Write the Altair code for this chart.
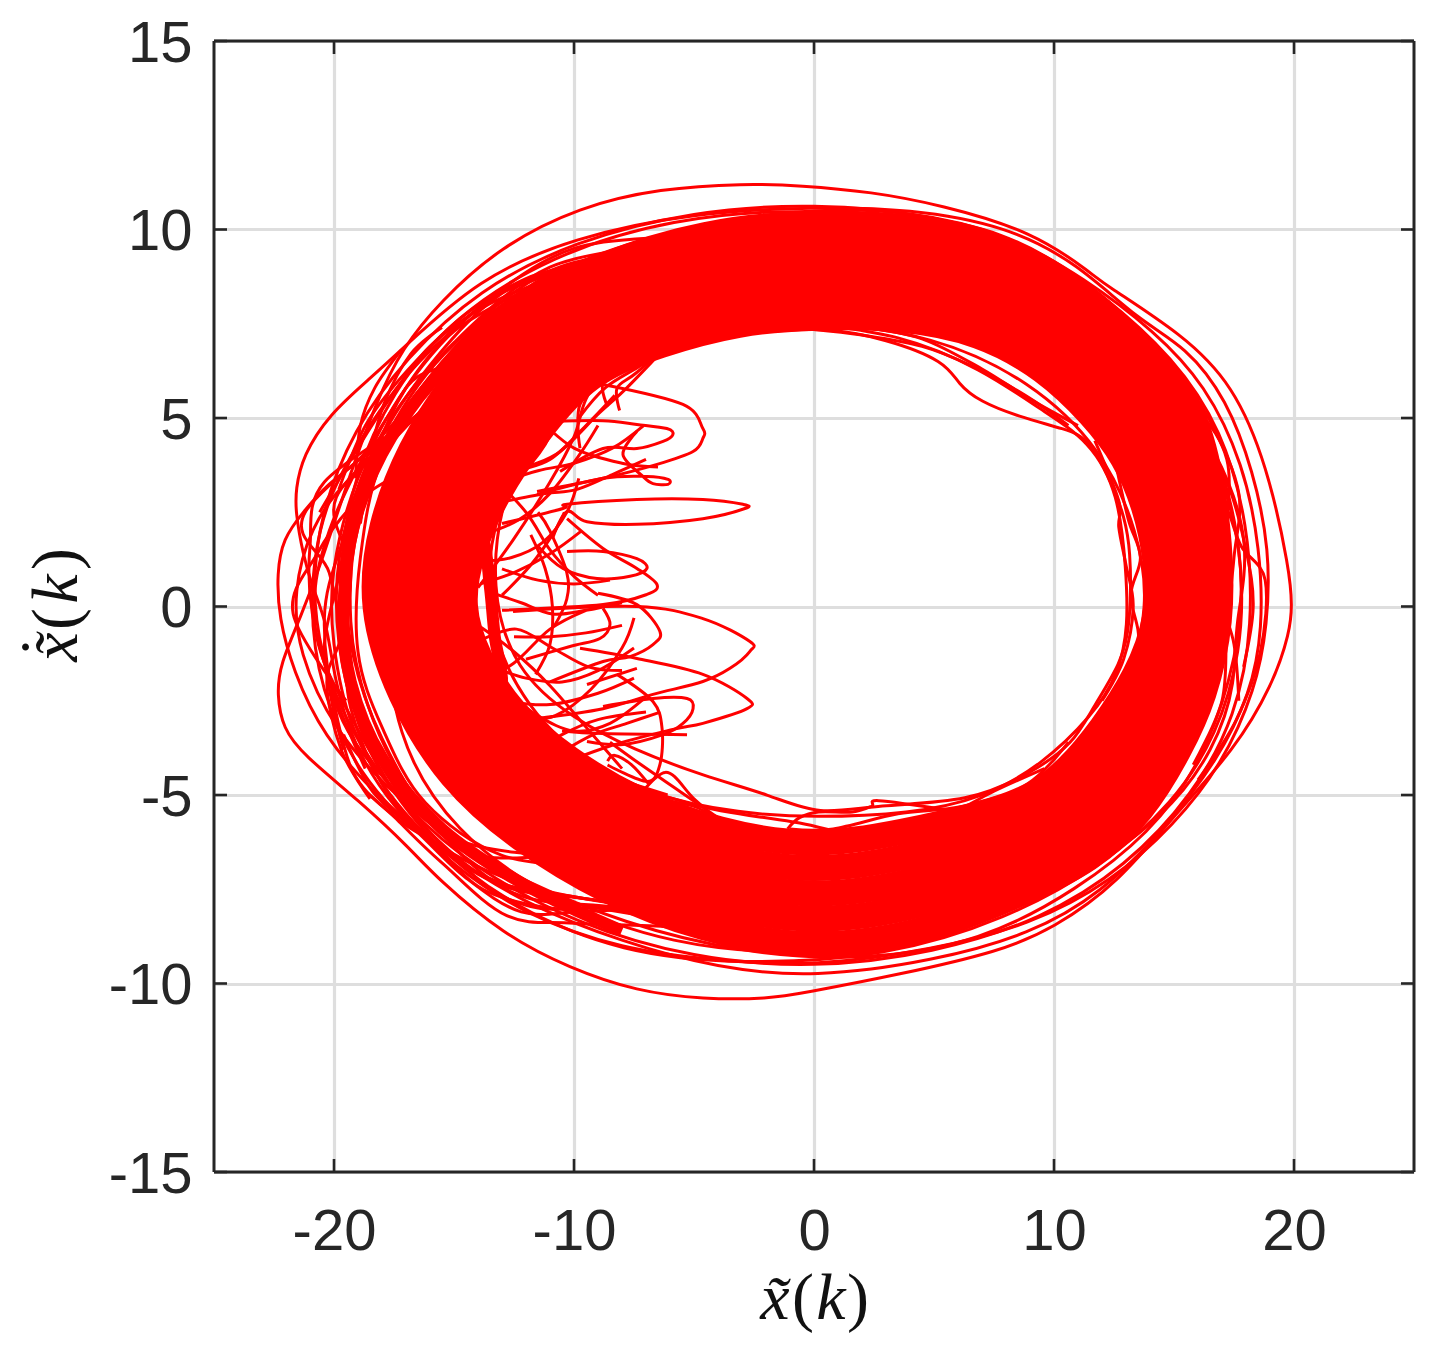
import altair as alt
import pandas as pd

# ---- dense core of the attractor: five orbits followed across the band ----
core_a = [(0,10.21),(3.95,10.10),(7.71,9.70),(11.07,8.42),(13.67,6.87),(15.66,5.53),(16.50,3.69),(16.92,1.66),(17.0,-0.38),(16.27,-2.42),(15.27,-3.77),(13.73,-5.45),(11.52,-6.75),(8.84,-7.56),(4.79,-8.65),(0,-9.12),(-4.65,-8.60),(-8.72,-7.58),(-12.34,-6.17),(-15.18,-4.62),(-17.35,-2.36),(-18.53,0),(-18.11,2.14),(-16.88,4.19),(-15.03,6.01),(-12.58,7.84),(-8.93,9.09),(-4.53,9.96)]
core_b = [(0,9.58),(3.87,9.49),(7.51,9.09),(10.71,7.89),(13.16,6.42),(14.98,5.14),(15.82,3.44),(16.26,1.56),(16.35,-0.36),(15.57,-2.27),(14.45,-3.64),(12.96,-5.16),(10.88,-6.35),(8.38,-7.05),(4.53,-7.98),(0,-8.44),(-4.49,-7.94),(-8.40,-6.97),(-11.83,-5.63),(-14.55,-4.17),(-16.52,-2.11),(-17.58,0),(-17.16,1.96),(-15.97,3.89),(-14.16,5.66),(-11.79,7.43),(-8.30,8.55),(-4.17,9.35)]
core_c = [(0,8.95),(3.79,8.89),(7.31,8.49),(10.36,7.36),(12.65,5.97),(14.31,4.75),(15.15,3.19),(15.61,1.46),(15.69,-0.34),(14.88,-2.12),(13.63,-3.52),(12.19,-4.87),(10.25,-5.96),(7.92,-6.53),(4.27,-7.32),(0,-7.76),(-4.34,-7.29),(-8.09,-6.37),(-11.32,-5.11),(-13.92,-3.72),(-15.69,-1.86),(-16.63,0),(-16.21,1.79),(-15.07,3.59),(-13.29,5.31),(-11.0,7.03),(-7.67,8.03),(-3.82,8.75)]
core_d = [(0,8.32),(3.71,8.28),(7.11,7.89),(10.0,6.83),(12.13,5.51),(13.64,4.35),(14.48,2.93),(14.95,1.36),(15.03,-0.31),(14.18,-1.97),(12.81,-3.39),(11.42,-4.58),(9.62,-5.56),(7.46,-6.01),(4.01,-6.66),(0,-7.08),(-4.18,-6.64),(-7.77,-5.78),(-10.80,-4.58),(-13.28,-3.26),(-14.86,-1.60),(-15.68,0),(-15.26,1.62),(-14.16,3.28),(-12.42,4.95),(-10.21,6.63),(-7.03,7.50),(-3.46,8.15)]
core_e = [(0,7.69),(3.63,7.67),(6.91,7.28),(9.64,6.30),(11.62,5.06),(12.96,3.96),(13.80,2.68),(14.29,1.25),(14.37,-0.29),(13.48,-1.82),(11.98,-3.26),(10.65,-4.29),(8.98,-5.16),(7.0,-5.50),(3.75,-5.99),(0,-6.40),(-4.02,-5.98),(-7.45,-5.15),(-10.29,-4.05),(-12.65,-2.81),(-14.03,-1.35),(-14.73,0),(-14.31,1.44),(-13.25,2.98),(-11.55,4.60),(-9.42,6.22),(-6.40,6.97),(-3.11,7.54)]
# left edges of the dense part
rim_a = [(-7,9.6),(-11.5,8.5),(-15,6.6),(-17.6,4.5),(-19.1,2.3),(-19.6,0),(-19.3,-2),(-18,-4),(-15.5,-5.9),(-12,-7.4),(-8,-8.6)]
rim_b = [(-14.5,1.5),(-13.8,1.8),(-13.5,0.5),(-13.3,-0.8),(-13,-2),(-13.5,-2.6)]

# ---- single closed orbits that stand out of the band ----
orbit_1 = [(-17.17,6.84),(-15.58,8.09),(-13.08,9.55),(-9.75,10.61),(-6.42,11.09),(-2.88,11.22),(-0.58,11.17),(2.4,11.0),(5.25,10.66),(9.13,9.95),(11.63,8.81),(12.04,8.57),(15.38,7.21),(17.46,5.89),(18.88,3.77),(19.83,0.93),(19.92,0),(19.83,-0.66),(19.13,-2.07),(17.46,-3.85),(15.25,-5.36),(12.63,-7.37),(9.96,-8.54),(7.75,-9.15),(3.58,-9.76),(-0.58,-10.27),(-1.83,-10.40),(-4.63,-10.42),(-7.38,-10.21),(-10.17,-9.60),(-12.96,-8.70),(-15.71,-7.21),(-16.83,-6.42),(-18.92,-5.17),(-21.29,-3.93),(-22.13,-3.24),(-22.38,-2.33),(-22.25,-1.54),(-21.4,-0.3),(-20.5,1.2),(-19.5,3.2),(-18.2,5.5)]
orbit_2 = [(-22.38,0.9),(-22.13,1.8),(-21.3,2.5),(-20.2,3.3),(-19.2,3.7),(-17,5.2),(-14,7.4),(-11,8.9),(-7,9.8),(-3,10.3),(0,10.55),(4,10.5),(8,9.9),(11.3,8.7),(14.2,7.3),(16.3,5.9),(17.9,3.8),(18.6,1.5),(18.7,-0.6),(18.2,-2.3),(16.8,-4.1),(14.6,-5.9),(12,-7.6),(9,-8.7),(5,-9.4),(0,-9.85),(-4,-9.6),(-8,-8.9),(-12,-7.9),(-15,-6.7),(-18,-5.2),(-20.5,-3.4),(-21.7,-1.7),(-22.3,-0.3)]
orbit_3 = [(-20.3,-0.4),(-20.9,0.5),(-21.3,1.4),(-21.6,2.5),(-21.6,3.1),(-21.3,4.0),(-20.2,5.1),(-18.5,6.05),(-17.2,6.8),(-14,8.7),(-10,9.8),(-5,10.45),(0,10.6),(4,10.55),(8,10.1),(11,9.1),(13.5,7.6),(15.5,6.9),(17.2,5.5),(18.3,3.6),(19.0,1.5),(18.9,-0.5),(18.4,-2.2),(17,-4.2),(15,-5.8),(12.4,-7.3),(9,-8.45),(5,-9.1),(0,-9.55),(-4,-9.4),(-8,-9.1),(-12,-8.2),(-15,-6.9),(-17.5,-5.4),(-19.2,-3.7),(-20.0,-1.9)]
orbit_4 = [(-20.9,0.5),(-20.6,2.4),(-19.2,4.7),(-17,6.6),(-14,8.4),(-10,9.7),(-5,10.5),(0,10.7),(5,10.4),(9,9.6),(12,8.3),(15,6.6),(17,4.7),(18.1,2.2),(18.3,-0.5),(17.6,-2.9),(15.8,-5),(13,-6.9),(9.5,-8.3),(5,-9.2),(0,-9.6),(-5,-9.35),(-10,-8.4),(-14,-7),(-17,-5.4),(-19.4,-3.3),(-20.6,-1.2)]
orbit_5 = [(-19.8,1.2),(-19.2,3.4),(-17.6,5.7),(-15,7.7),(-11,9.3),(-6,10.3),(0,10.6),(6,10.1),(10,9),(13,7.4),(15.6,5.6),(17.2,3.5),(17.9,1),(17.8,-1.2),(16.8,-3.4),(15,-5.2),(12,-6.9),(8,-8.3),(3,-9.3),(-3,-9.5),(-8,-9.2),(-12.5,-8),(-16,-6.3),(-18.6,-4),(-19.7,-1.5)]
orbit_6 = [(-21.5,-1.2),(-21.7,0.4),(-21,2.1),(-19.5,3.4),(-17.5,4.3),(-15,6.3),(-10,8.9),(-5,10),(0,10.35),(5,10.05),(10,8.9),(13.5,7),(16,5),(17.4,2.8),(18,0.5),(17.4,-2),(16,-4.3),(14,-6),(11,-7.5),(7,-8.9),(2,-9.4),(-3,-9.2),(-8,-8.4),(-12,-7.3),(-15,-6.3),(-17.5,-5),(-20,-3.3)]
orbit_7 = [(-15,0),(-14.5,2.5),(-13,4.6),(-10.5,6.5),(-7,7.7),(-3,8),(0,7.45),(3.5,7.25),(7,6.3),(9.5,5.2),(11.5,4.4),(12.7,3),(13,1),(13.1,-0.5),(12.7,-1.8),(11.6,-2.9),(9.5,-4.2),(7,-5.1),(4,-5.5),(0,-5.6),(-3,-5.5),(-7,-5),(-10,-4),(-13,-2.5)]
orbit_8 = [(-13.5,0.5),(-13,3),(-11.5,5),(-8.5,6.5),(-4.5,7.3),(-1.5,7.3),(0.5,7.4),(3,7.1),(5.5,6.5),(6,5.9),(6.9,5.44),(8.5,5.04),(10.5,4.7),(11.5,4.46),(12.6,3),(12.9,2.4),(13.2,1.6),(13.2,-0.5),(12.8,-1.5),(11.6,-2.7),(10.8,-3.65),(9.1,-4.4),(6.5,-5.2),(2.6,-5.25),(0.2,-5.55),(-1.8,-5),(-4.6,-4.5),(-7.5,-3.8),(-10,-3),(-12.5,-1.7)]
orbit_9 = [(-14,0),(-13,3.4),(-10,6.2),(-6,7.6),(0,7.6),(5,7.2),(9,6),(12,4.2),(13.5,2),(14,0),(13,-2.2),(11.2,-3.6),(9.5,-4.6),(6,-5.6),(2,-6.2),(0.1,-5.8),(-2,-5.6),(-5,-5.35),(-9,-4.4),(-12,-2.8)]
orbit_10 = [(-18,0),(-17,3.6),(-14.5,6.4),(-10,8.5),(-5,9.7),(0,10.2),(6,9.8),(11,8.2),(14.5,6.2),(16.8,4.2),(18.3,1.6),(17.5,-0.5),(17.6,-2),(16.7,-3.8),(14.6,-5.6),(11,-7.2),(6,-8.7),(0,-9.3),(-6,-9),(-11,-7.8),(-15,-6),(-17.5,-3.5)]

# ---- open pieces: petals and fans on the left, arcs on the far left ----
petal_1 = [(-13,2.2),(-10.46,2.60),(-10.29,2.71),(-7.38,2.84),(-4.63,2.84),(-2.96,2.71),(-2.88,2.60),(-4.63,2.33),(-7.38,2.18),(-9.46,2.25),(-10.29,2.52),(-10.9,1.8)]
petal_2 = [(-8.79,5.89),(-5.46,5.36),(-4.63,4.72),(-4.63,4.46),(-5.04,4.11),(-6.54,3.77),(-8.79,3.40),(-11.54,3.05)]
petal_3 = [(-10.88,4.91),(-8.79,4.93),(-7.38,4.83),(-6.13,4.72),(-5.88,4.56),(-6.29,4.38),(-7.38,4.19),(-8.79,4.19),(-10.58,3.58)]
petal_4 = [(-11.54,2.97),(-8.79,3.40),(-6.96,3.45),(-6.08,3.37),(-6.08,3.24),(-6.71,3.26),(-7.13,3.45),(-7.96,4.03),(-7.38,4.64)]
petal_5 = [(-10.29,1.46),(-8.79,1.46),(-7.38,1.27),(-6.96,1.01),(-7.67,0.80),(-9.04,0.74),(-10.46,1.01),(-11.5,1.6)]
petal_6 = [(-10.29,2.33),(-8.79,1.54),(-7.38,1.01),(-6.54,0.58),(-6.96,0.32),(-8.79,0.05),(-13,-0.1)]
petal_7 = [(-12.54,-0.13),(-7.38,0),(-4.63,-0.32),(-2.67,-0.93),(-2.67,-1.19),(-3.5,-1.64),(-4.63,-1.99),(-6.71,-2.33),(-8.79,-2.71),(-11.54,-2.97)]
petal_8 = [(-9.75,-1.11),(-7.38,-1.38),(-4.63,-1.80),(-2.79,-2.44),(-2.79,-2.71),(-4.63,-3.10),(-5.88,-3.26),(-8.5,-3.7),(-11,-4.3)]
petal_9 = [(-9,0.35),(-7.38,0.05),(-6.42,-0.66),(-6.71,-1.01),(-7.67,-1.33),(-8.79,-1.46),(-11,-2)]
petal_10 = [(-8.79,-0.05),(-8.5,-0.48),(-8.92,-0.85),(-10.17,-1.06),(-12,-1.4)]
petal_11 = [(-8.79,-2.65),(-6.71,-2.44),(-5.29,-2.44),(-5.04,-2.71),(-5.46,-3.10),(-6.29,-3.40),(-7.96,-3.66),(-9.46,-3.58)]
petal_12 = [(-10.5,-3.3),(-8.79,-3.37),(-5.29,-3.40)]
petal_13 = [(-8.21,-1.80),(-6.71,-2.52),(-6.33,-3.24),(-6.42,-4.19),(-6.96,-4.64),(-8.6,-4.2)]
petal_14 = [(-8.6,-4.1),(-8.3,-3.95),(-7.6,-4.2),(-6.9,-4.7)]
petal_15 = [(-9.46,-2.07),(-7.38,-1.64)]
petal_16 = [(-9.0,6.0),(-9.75,5.36),(-9.83,4.7),(-9.75,4.2)]
petal_17 = [(-9.9,5.5),(-9.7,6.1),(-8.6,6.5),(-6.5,7.0)]
fan_1 = [(-14,0.5),(-12.5,1.8),(-11,3.3),(-10,4.5),(-9.5,5.5),(-8.5,6.5)]
fan_2 = [(-13.5,3.5),(-12,2.5),(-11,1.5),(-10,0.8),(-9,0.3)]
fan_3 = [(-14,2.5),(-12.5,3.3),(-11.2,4.3),(-10.5,5.4)]
fan_4 = [(-13,0.3),(-11.8,1.1),(-10.8,2.0),(-10.4,2.5)]
fan_5 = [(-14,-2),(-12.5,-1.5),(-11,-0.6),(-9.5,-0.1)]
fan_6 = [(-14,-0.5),(-12.5,-1.2),(-11,-2.1),(-9.5,-3.2),(-8,-4.3)]
fan_7 = [(-13,-3),(-11.5,-3.7),(-10,-4.5),(-8.5,-4.9)]
fan_8 = [(-13,-2.5),(-11,-2.6),(-9,-2.3),(-7.5,-1.9)]
fan_9 = [(-12,-4),(-10.5,-3.4),(-9,-3.0),(-7,-2.8)]
fan_10 = [(-12.5,-0.8),(-11,-0.8),(-9.5,-0.7),(-8,-0.5)]
fan_11 = [(-13,1.0),(-11.5,0.7),(-10,0.6),(-8.5,0.7)]
fan_12 = [(-12.5,3.6),(-11,3.9),(-9.5,4.8),(-8.3,5.6)]
fan_13 = [(-11.5,5),(-10,4.2),(-8,3.8),(-6.5,3.7)]
cross_1 = [(-13.5,3.2),(-11.5,3.6),(-10,3.8),(-8.4,4.2),(-7.1,4.8)]
cross_2 = [(-12.8,2.8),(-11.2,3.0),(-9.9,3.1),(-8.4,3.5),(-7,3.9)]
cross_3 = [(-13.8,1.9),(-12.3,2.3),(-11,3.0),(-9.8,4.0),(-9,4.8)]
cross_4 = [(-14,1.2),(-12.6,1.3),(-11.3,1.7),(-10.3,2.5),(-9.8,3.4)]
cross_5 = [(-13.6,0.4),(-12.2,0.1),(-10.9,-0.2),(-9.5,-0.1),(-8,0.1)]
cross_6 = [(-13.9,0.6),(-12.5,0.9),(-11,1.4),(-9.7,2.0)]
cross_7 = [(-11.5,2.5),(-11,2.0),(-10.3,0.9),(-10.3,0.2),(-10.8,-0.5)]
cross_8 = [(-11.8,1.9),(-11.2,1.0),(-10.9,0),(-11,-1),(-11.6,-1.8)]
cross_9 = [(-13.9,-0.9),(-12.4,-0.6),(-10.9,-1.1),(-9.4,-1.6),(-8,-1.7)]
cross_10 = [(-13.4,-1.6),(-12,-1.9),(-10.5,-2),(-9,-1.7),(-7.5,-1.1)]
cross_11 = [(-13,-2.2),(-11.5,-2.9),(-10,-3.3),(-8.5,-3.1),(-7,-2.4)]
cross_12 = [(-12.2,-3),(-10.8,-2.9),(-9.3,-2.2),(-8,-1.1),(-7.5,-0.3)]
cross_13 = [(-12,-3.7),(-10.7,-4.2),(-9.2,-4.4),(-7.6,-4.7),(-6.1,-5)]
cross_14 = [(-10.6,-3.9),(-9.2,-3.4),(-7.8,-3.1),(-6.4,-2.8)]
cross_15 = [(-9.5,-4.6),(-8,-5),(-6.6,-5.1),(-5,-5.3),(-4.2,-5.6)]
cross_16 = [(-8.5,-3.6),(-7.2,-4.2),(-5.6,-4.9),(-4,-5.6)]
cross_17 = [(-7.5,-5.2),(-6.2,-4.4),(-5,-5.1),(-3.6,-5.9)]
cross_18 = [(-11.6,4.2),(-10.5,5.1),(-9,5.9),(-7.8,6.5)]
cross_19 = [(-12,3.7),(-10.6,4.1),(-9,5.1),(-7.8,5.8),(-6,7.0)]
cross_20 = [(-9.8,5.0),(-8.7,5.8),(-7.2,6.4),(-5.8,7.0)]
cross_21 = [(-8.6,5.3),(-8.8,5.9),(-8,6.3),(-6,7.1)]
cross_22 = [(-8.1,5.2),(-8.2,5.8),(-7.4,6.2),(-5.6,7.2)]
arc_1 = [(-18,-4.4),(-20.4,-1.5),(-20.8,0.3),(-20.2,2),(-19,3.7),(-17.6,5.2),(-16.5,6.1),(-14.5,6.5)]
arc_2 = [(-19.6,-3.8),(-20.1,-2.5),(-20.4,-1),(-19.8,0.8),(-19.3,2.4),(-18.4,4.0)]
arc_3 = [(-16.6,5.0),(-19.9,2.9),(-19.3,1),(-19.7,-0.8),(-20.3,-2),(-19.7,-3.8),(-18.5,-5.1)]
arc_4 = [(-16.5,5.1),(-21.2,2.5),(-20.2,0.9),(-19.6,-1),(-19.3,-2.7),(-18,-4.7),(-16,-6.2)]
arc_5 = [(-19.5,-2.5),(-21.7,-0.2),(-20.7,1.4),(-19.2,2.7),(-17.6,3.4)]
arc_6 = [(-16.5,5.0),(-20.4,3.3),(-21,1.6),(-20.9,-0.2),(-20,-2.3),(-18.7,-4.3)]
arc_7 = [(-19.1,3.4),(-18.9,4.8),(-18.3,5.8),(-17.2,6.8)]
arc_8 = [(-18.5,4),(-17.9,5.4),(-16.8,6.7),(-15.5,7.4)]
arc_9 = [(-18.7,-4.9),(-17,-5.8),(-15.2,-6.5),(-13.5,-7.5),(-11.5,-8.0),(-9.6,-8.0),(-6.5,-8.0),(-4.5,-8.3)]
wide_1 = [(-5,9.8),(-10,9.5),(-14,7.9),(-17,5.8),(-19,3.4),(-20,1),(-20,-1),(-19.2,-3.2),(-17.4,-5.2),(-14.5,-6.9),(-10.5,-7.8),(-5,-8.4)]
wide_2 = [(-6,9.6),(-11,9),(-15,7),(-17.8,4.8),(-19.4,2.4),(-19.9,0.3),(-19.5,-2),(-18.2,-4.2),(-16,-6),(-13,-7.4),(-9,-7.8),(-4,-8.4)]
wide_3 = [(-8,9.2),(-12.5,8.5),(-16,6.4),(-18.6,3.7),(-19.5,1),(-19.2,-1.3),(-18,-3.5),(-15.8,-5.8),(-12.5,-7.6),(-8,-8.0),(-3,-8.6)]
wide_4 = [(-7,9.3),(-12,8.7),(-15.8,6.9),(-18.4,4.9),(-20.3,2.6),(-20.9,0.2),(-20.4,-2.2),(-18.8,-4.4),(-16.2,-6.1),(-12,-7.4),(-7,-8.0)]
wide_5 = [(-9,8.9),(-13,8),(-16.5,5.7),(-18.8,3.2),(-19.8,-0.2),(-19,-2.9),(-17,-5.2),(-14,-7.1),(-10,-7.7),(-6,-8.0)]
wide_6 = [(-10,8.6),(-14,7.4),(-17.2,4.9),(-19,2.1),(-19.3,-0.4),(-18.6,-2.6),(-17,-4.7),(-14.5,-6.5),(-11,-6.6)]
wide_7 = [(-12,8.3),(-15.6,6.4),(-18,3.9),(-18.9,1.3),(-19,-1.2),(-18,-3.2),(-16.2,-5.2),(-13,-6.6),(-9,-6.9)]
wide_8 = [(-6,9.5),(-11,8.9),(-15.4,6.7),(-18,4.3),(-19.6,1.8),(-20.4,-0.3),(-19.8,-2.8),(-17.7,-4.7),(-14.8,-6.2),(-11,-6.6)]
low_1 = [(-19.6,-3.4),(-18.4,-4.9),(-16.5,-6.0),(-14.5,-7.2),(-12.2,-8.1),(-9.8,-8.1),(-7,-8.0)]
low_2 = [(-18.9,-3.6),(-17.5,-5.2),(-15.8,-6.3),(-13.8,-7.5),(-11,-8.0),(-8.5,-8.0),(-5,-8.3)]
low_3 = [(-20.1,-2.2),(-19.2,-4.4),(-17.3,-5.7),(-15.5,-6.8),(-12.8,-8.2),(-10,-8.4),(-6,-8.5),(-3,-8.8)]
up_1 = [(-19.8,3.1),(-18.6,4.9),(-16.6,6.5),(-14.2,7.9),(-11.5,8.7),(-8,9.3)]
up_2 = [(-20.6,2.5),(-19.2,4),(-17.8,5.4),(-16,6.9),(-13.6,8.0),(-10.5,8.8)]
up_3 = [(-18.9,2.2),(-18.3,4),(-17,5.8),(-15,7.3),(-12,8.4)]
right_1 = [(13.5,5.8),(15.8,4.6),(17.2,3.3),(18,1.5),(18.3,0),(17.9,-1.6)]
right_2 = [(13.8,6.4),(16,5.2),(17.2,3.9),(17.2,2.2),(16.9,0.5),(17.5,-1),(17.7,-2.5)]
right_3 = [(15,6.4),(16.6,4.8),(17.7,3),(17.5,1.3),(17.2,-0.6),(17,-2.5),(15.8,-4.2)]
right_4 = [(16.2,3.8),(17.2,2.6),(17.8,1.6),(18.8,0.7),(18.6,-1.2),(17.6,-3),(16,-4.6)]
right_5 = [(11.7,4.4),(12.7,2.8),(12.7,2.1),(13,1.1),(13.3,0),(12.9,-1.4),(12,-2.5)]
right_6 = [(12.6,3.7),(13.1,2.3),(13.6,1.3),(13.2,0.3),(13.5,-1),(12.4,-2.4)]
under_1 = [(10.6,-3.6),(8.9,-4.7),(6.2,-5.3),(3.5,-5.5),(0.8,-5.9),(-1,-5.9)]
under_2 = [(9.6,-4.3),(7.5,-4.9),(5,-5.7),(2.1,-6.1),(0.7,-6),(-1.5,-6)]
under_3 = [(5.6,-5.4),(2.7,-5.15),(2.4,-5.3),(1.6,-5.45),(0.2,-5.45),(-0.6,-5.6),(-1.1,-5.9)]
over_1 = [(0,7.35),(2,7.2),(4.5,6.9),(6.5,6.4),(8.8,5.6),(10.6,4.8)]
over_2 = [(2,7.4),(4.5,7.1),(7,6.3),(9,5.5),(11,4.8)]

x_ticks = [-20, -10, 0, 10, 20]
y_ticks = [-15, -10, -5, 0, 5, 10, 15]

RED = "#ff0000"
DARK = "#262626"
W, H = 1200, 1131
TICK = 13


def table(curves):
    rows = []
    for cid, pts in enumerate(curves):
        for i, (x, y) in enumerate(pts):
            rows.append({"c": cid, "i": i, "x": x, "y": y})
    return pd.DataFrame(rows)


x_scale = alt.Scale(domain=[-25, 25], nice=False, zero=False)
y_scale = alt.Scale(domain=[-15, 15], nice=False, zero=False)
x_enc = alt.X("x:Q", scale=x_scale, axis=alt.Axis(
    values=x_ticks, title=None, grid=True, gridColor="#dedede", gridWidth=3.2,
    ticks=False, domain=False, labelFontSize=58, labelFont="Liberation Sans",
    labelColor=DARK, labelPadding=31, labelExpr="toString(datum.value)", labelFlush=False))
y_enc = alt.Y("y:Q", scale=y_scale, axis=alt.Axis(
    values=y_ticks, title=None, grid=True, gridColor="#dedede", gridWidth=3.2,
    ticks=False, domain=False, labelFontSize=58, labelFont="Liberation Sans",
    labelColor=DARK, labelPadding=22, labelOffset=3,
    labelExpr="toString(datum.value)", labelFlush=False))


def lines(curves, interp, width):
    return alt.Chart(table(curves)).mark_line(
        color=RED, strokeWidth=width, interpolate=interp, strokeJoin="round"
    ).encode(x=x_enc, y=y_enc, detail="c:N", order=alt.Order("i:Q"))


core = lines([core_a, core_b, core_c, core_d, core_e], "basis-closed", 26)
rims = lines([rim_a, rim_b], "cardinal", 12)
orbits = lines([orbit_1, orbit_2, orbit_3, orbit_4, orbit_5, orbit_6, orbit_7,
                orbit_8, orbit_9, orbit_10], "basis-closed", 3)
pieces = lines([petal_1, petal_2, petal_3, petal_4, petal_5, petal_6, petal_7, petal_8,
                petal_9, petal_10, petal_11, petal_12, petal_13, petal_14, petal_15,
                petal_16, petal_17, fan_1, fan_2, fan_3, fan_4, fan_5, fan_6, fan_7,
                fan_8, fan_9, fan_10, fan_11, fan_12, fan_13,
                cross_1, cross_2, cross_3, cross_4, cross_5, cross_6, cross_7, cross_8,
                cross_9, cross_10, cross_11, cross_12, cross_13, cross_14, cross_15,
                cross_16, cross_17, cross_18, cross_19, cross_20, cross_21, cross_22,
                arc_1, arc_2, arc_3, arc_4, arc_5, arc_6, arc_7, arc_8, arc_9,
                wide_1, wide_2, wide_3, wide_4, wide_5, wide_6, wide_7, wide_8,
                low_1, low_2, low_3, up_1, up_2, up_3,
                right_1, right_2, right_3, right_4, right_5, right_6,
                under_1, under_2, under_3, over_1, over_2], "cardinal", 3)

xt = pd.DataFrame({"x": x_ticks})
yt = pd.DataFrame({"y": y_ticks})
one = pd.DataFrame({"a": [0]})
tick_style = dict(color=DARK, strokeWidth=2.6)
frame_style = dict(color=DARK, strokeWidth=3)
furniture = [
    alt.Chart(xt).mark_rule(**tick_style).encode(x=x_enc, y=alt.value(H), y2=alt.value(H - TICK)),
    alt.Chart(xt).mark_rule(**tick_style).encode(x=x_enc, y=alt.value(0), y2=alt.value(TICK)),
    alt.Chart(yt).mark_rule(**tick_style).encode(y=y_enc, x=alt.value(0), x2=alt.value(TICK)),
    alt.Chart(yt).mark_rule(**tick_style).encode(y=y_enc, x=alt.value(W), x2=alt.value(W - TICK)),
    alt.Chart(one).mark_rule(**frame_style).encode(x=alt.value(0), y=alt.value(0), y2=alt.value(H)),
    alt.Chart(one).mark_rule(**frame_style).encode(x=alt.value(W), y=alt.value(0), y2=alt.value(H)),
    alt.Chart(one).mark_rule(**frame_style).encode(y=alt.value(0), x=alt.value(0), x2=alt.value(W)),
    alt.Chart(one).mark_rule(**frame_style).encode(y=alt.value(H), x=alt.value(0), x2=alt.value(W)),
]


def word(text, px, py, italic, angle=0):
    opts = dict(text=text, font="Liberation Serif", fontSize=66, color="#111111",
                align="center", baseline="alphabetic", angle=angle)
    if italic:
        opts["fontStyle"] = "italic"
    return alt.Chart(one).mark_text(**opts).encode(x=alt.value(px - 214), y=alt.value(py - 40))


titles = [
    word("x\u0303", 775, 1318, True), word("(", 803, 1318, False),
    word("k", 831, 1318, True), word(")", 858, 1318, False),
    word("x\u0303", 77, 646, True, 270), word("\u02d9", 66, 646, False, 270),
    word("(", 77, 618, False, 270), word("k", 77, 588, True, 270),
    word(")", 77, 558, False, 270),
]

chart = alt.layer(core, rims, orbits, pieces, *furniture, *titles).properties(
    width=W, height=H, background="white",
    padding={"left": 5, "top": 7, "right": 5, "bottom": 5}
).configure_view(stroke=None)

chart.save("out.html", embed_options={"renderer": "svg", "actions": False})
